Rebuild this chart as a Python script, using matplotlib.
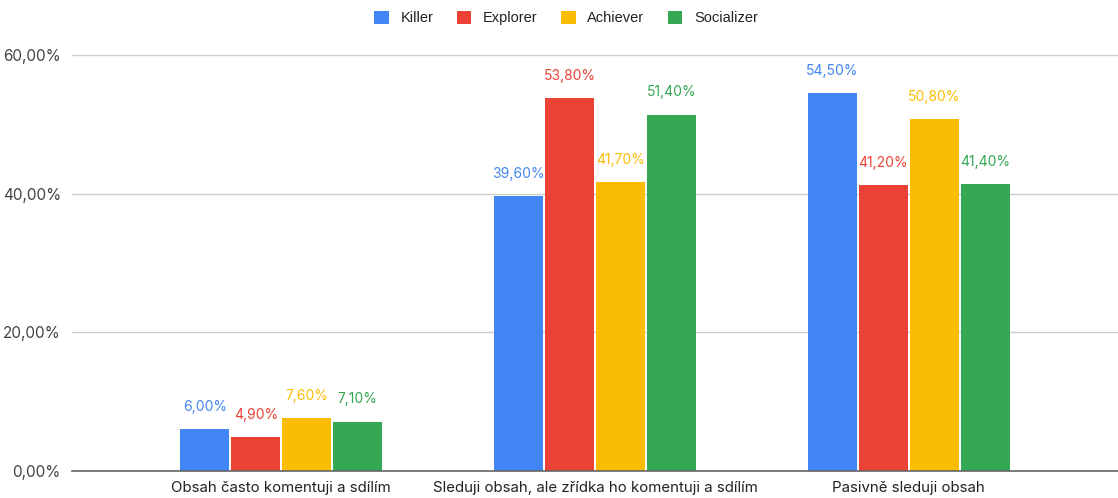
import matplotlib
matplotlib.use("Agg")
import matplotlib.pyplot as plt
from matplotlib.patches import Patch
import numpy as np

plt.rcParams['font.family'] = ['Inter', 'DejaVu Sans']

categories = ["Obsah často komentuji a sdílím",
              "Sleduji obsah, ale zřídka ho komentuji a sdílím",
              "Pasivně sleduji obsah"]
series_names = ["Killer", "Explorer", "Achiever", "Socializer"]
killer = [6.0, 39.6, 54.5]
explorer = [4.9, 53.8, 41.2]
achiever = [7.6, 41.7, 50.8]
socializer = [7.1, 51.4, 41.4]
colors = ["#4285F4", "#EA4335", "#FBBC04", "#34A853"]
yticks = [0, 20, 40, 60]

def fmt(v):
    return f"{v:.2f}".replace(".", ",") + "%"

fig = plt.figure(figsize=(11.18, 4.98), dpi=100)
ax = fig.add_axes([72/1118, 27/498, 1 - 72/1118, (471-55)/498])

x = np.arange(len(categories))
step = 0.1625
width = 0.156
all_series = [killer, explorer, achiever, socializer]
for i, (name, vals, c) in enumerate(zip(series_names, all_series, colors)):
    pos = x + (i - 1.5) * step
    bars = ax.bar(pos, vals, width=width, color=c, label=name, zorder=3)
    for b, v in zip(bars, vals):
        ax.annotate(fmt(v), (b.get_x() + b.get_width()/2, v), xytext=(0, 11),
                    textcoords="offset points", ha="center", va="bottom",
                    color=c, fontsize=10)

ax.set_xlim(-0.667, 2.667)
ax.set_ylim(0, 60)
ax.set_yticks(yticks)
ax.set_yticklabels([fmt(v) for v in yticks], color="#444444", fontsize=11)
ax.set_xticks(x)
ax.set_xticklabels(categories, color="#222222", fontsize=10.8)
ax.tick_params(length=0, pad=7)
ax.tick_params(axis='y', pad=8)
ax.grid(axis='y', color="#cccccc", linewidth=1, zorder=0)
for s in ["top", "right", "left"]:
    ax.spines[s].set_visible(False)
ax.spines["bottom"].set_color("#666666")
ax.spines["bottom"].set_linewidth(1.2)
ax.spines["bottom"].set_zorder(4)

handles = [Patch(facecolor=c, label=n) for n, c in zip(series_names, colors)]
fig.legend(handles=handles, loc="center", bbox_to_anchor=(566/1118, 1 - 18/498),
           ncol=4, frameon=False, handlelength=1.0, handleheight=1.0,
           handletextpad=0.8, columnspacing=1.6, labelcolor="#222222",
           prop={'family': ['Liberation Sans'], 'size': 10.5})

fig.savefig("out.png", dpi=100)
